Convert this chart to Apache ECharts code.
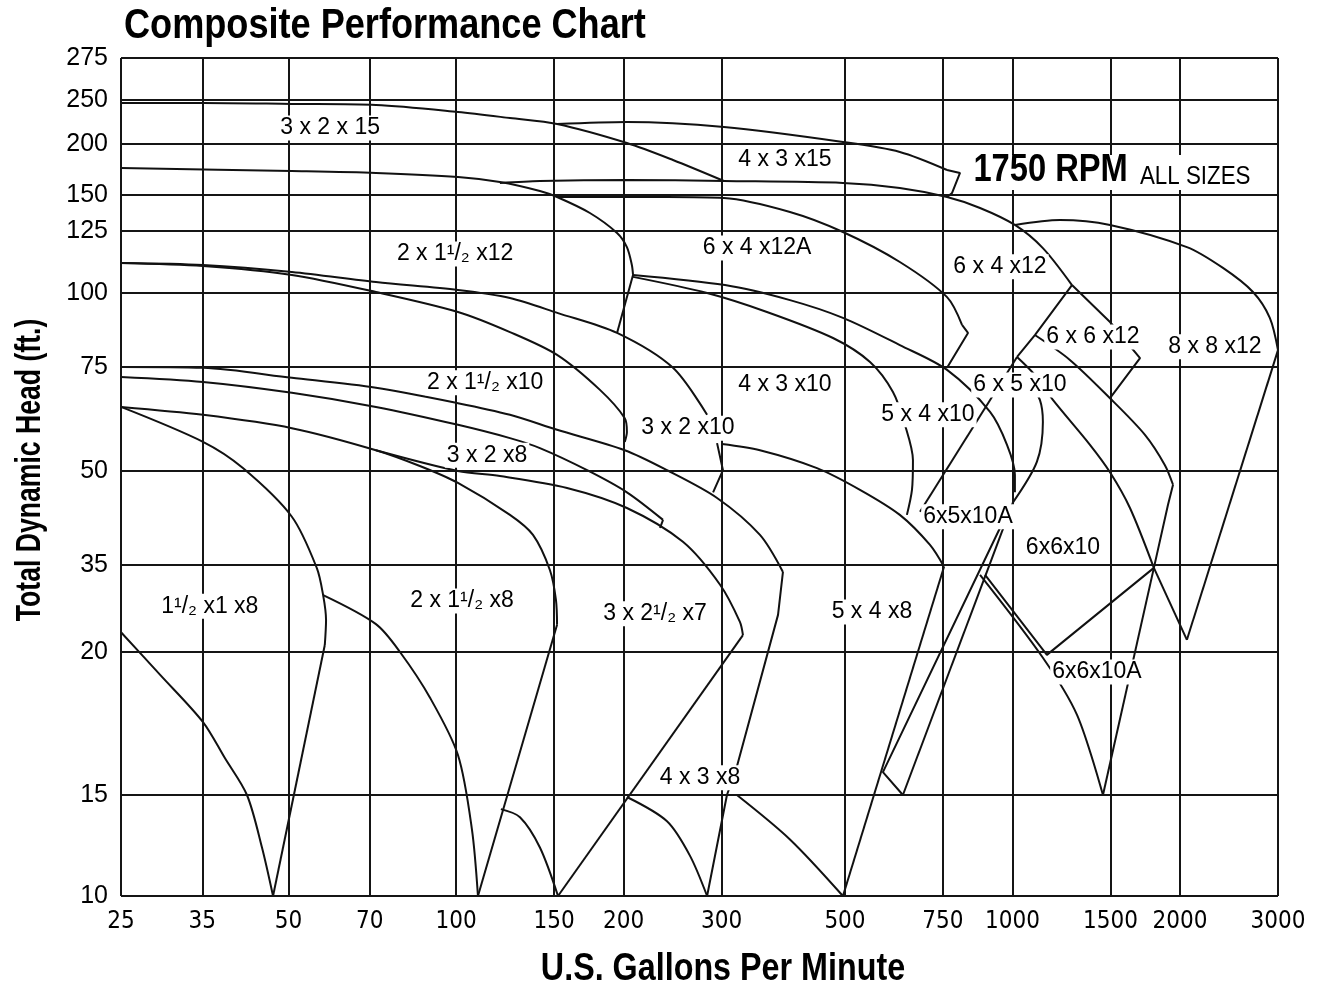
<!DOCTYPE html>
<html>
<head>
<meta charset="utf-8">
<title>Composite Performance Chart</title>
<script src="https://cdn.jsdelivr.net/npm/echarts@6/dist/echarts.min.js"></script>
<style>
  html, body { margin: 0; padding: 0; background: #fff; }
  #chart { width: 1323px; height: 990px; }
</style>
</head>
<body>
<div id="chart"></div>
<script>
// head scale as printed on the sheet: tick values and their (uneven) ruling
const headTicks = [10, 15, 20, 35, 50, 75, 100, 125, 150, 200, 250, 275];
const headRuling = [0, 101, 244, 331, 425, 529, 603, 665, 701, 752, 796, 838];
const gpmTicks = [25, 35, 50, 70, 100, 150, 200, 300, 500, 750, 1000, 1500, 2000, 3000];

// curves, points are [gpm, head ft]
// smooth impeller curves
const curve3x2x15 = [[25,246.6],[35.1,246.6],[50.7,245.5],[71.8,244.3],[100.8,236.4],[125,229.5],[151.9,222.7],[202.8,201.1],[245.4,184.3],[303,163.7]];
const curve4x3x15 = [[151.9,222.7],[202.8,225],[303,219.3],[495.8,202.3],[627.4,192.2],[762.8,174.5]];
const curve6x4x12 = [[119.9,161.8],[141.5,163.7],[202.8,164.7],[303,163.7],[495.8,161.8],[627.4,156.9],[762.8,148.6],[874.3,141],[1010,129.2],[1134,118.1],[1279,103.2]];
const curve8x8x12 = [[1010,129.2],[1217,132.6],[1497,129.2],[2058,118.5],[2389,110.1],[2705,100.4],[2900,91.6],[3000,80.7]];
const curve2x1h2x12 = [[25,176.5],[50.7,173.5],[71.8,171.6],[100.8,167.6],[119.9,162.7],[141.5,153.9],[151.9,148.6],[174,137.5],[194.7,124.2],[202.8,118.5],[207,111.3],[208,107.3]];
const curve6x4x12A = [[151.9,148.6],[181.4,148.6],[239.4,148.6],[303,147.9],[398.2,138.2],[495.8,124.6],[627.4,112.5],[762.8,98.6],[811.5,89.2]];
const curve6x5x10 = [[208,107.3],[304.3,103.2],[398.2,97.6],[495.8,91.6],[627.4,82.4],[762.8,74.3],[911.3,64.2],[977.5,56.3],[1010,49.4],[1010,46.6]];
const curve5x4x10 = [[208,106.5],[282.6,100],[362,93.6],[475.8,84.8],[554.6,76.7],[609.8,69],[640.7,61.1],[662.4,52.6],[659.7,47],[646,43]];
const curve4x3x10 = [[25,112.1],[35.1,111.3],[50.7,108.5],[71.8,104.4],[100.8,101.2],[125,98.3],[152.5,93.2],[194.7,86.5],[245.4,74.8],[282.6,63.5]];
const curve3x2x10 = [[25,112.1],[35.1,110.9],[50.7,107.3],[71.8,100.4],[100.8,93.6],[125,86.8],[151.9,79.1],[181.4,69.5],[201,62.7],[202.8,59.4],[201,57]];
const curve2x1h2x10 = [[25,75],[35.1,74.8],[50.7,72.4],[71.8,70],[100.8,66.3],[125,63.5],[151.9,59.9],[201,55],[239.4,50.2],[294.5,45.7],[351.7,39.8],[386.8,33.8]];
const curve3x2x8 = [[25,72.6],[35.1,71.4],[50.7,68.8],[71.8,65.4],[100.8,61.1],[125,57.9],[141.5,55.5],[172,50.2],[202.8,46.6],[235.5,42.2]];
const curve2x1h2x8 = [[25,65.4],[35.1,63.5],[50.7,60.3],[71.8,55],[86.1,51.2],[100.8,48.1],[125,43],[137.5,39.8],[147.5,34.1],[151.2,29],[151.9,24.7]];
const curve3x2h2x7 = [[71.8,55],[100.8,50],[119.9,49.2],[158.3,47.3],[202.8,44.1],[255.7,38.7],[298.2,31.6],[323.7,25.2],[327.8,22.9]];
const curve1h2x1x8 = [[25,65.4],[35.1,57],[41.4,50.7],[50.7,42.7],[56.2,34.5],[57.7,29.8],[58.4,25.5],[58.1,21.2]];
const trim1h2x1x8 = [[25,23.4],[29.4,19.2],[35.1,17.55],[38.4,16.3],[42.1,15],[44.8,12.4],[46.9,10]];
const trim2x1h2x8 = [[57.7,29.8],[71.8,24.8],[79.3,20],[89.8,18.4],[100.8,16.4],[106.8,13.3],[109.5,10]];
const trim3x2h2x7 = [[120.4,14.3],[130.3,13.9],[141.5,12.4],[152.5,10]];
const trim4x3x8 = [[202.8,14.9],[239.4,13.7],[263.2,12],[282.6,10]];
const curve4x3x8 = [[319.7,15],[398.2,12.8],[495.8,10]];
const curve5x4x8 = [[300.6,56.5],[351.7,55],[445.3,50.7],[532,47],[627.4,43],[710.8,38.2],[753.3,34.7]];
const trim6x5x10 = [[1075,70.7],[1120,67.1],[1134,61.8],[1106,52.2],[1002,45]];
const curve6x6x10 = [[1019,78.4],[1097,73.1],[1182,67.1],[1378,56.3],[1497,49.8],[1626,44.1],[1795,34.5]];
const curve6x6x12 = [[1097,85.8],[1268,77.4],[1497,67.5],[1730,58.7],[1879,51.4],[1943,47.8]];
const trim6x6x10A = [[874.3,33.3],[1134,19.8],[1306,17.8],[1454,15]];

// straight boundaries, hooks and notches
const hook4x3x15 = [[762.8,174.5],[804.8,171.6],[778.8,152],[762.8,148.6]];
const hook6x4x12 = [[1279,103.2],[1497,90.2],[1695,78],[1497,67.5]];
const edge6x4x12 = [[1279,103.2],[1097,85.8],[1019,78.4]];
const edge8x8x12 = [[3000,80.7],[2058,22.1]];
const notch2x1h2x12 = [[208,107.3],[194.7,86.5]];
const hook6x4x12A = [[811.5,89.2],[831.8,86.5],[762.8,74.8]];
const notch3x2x10 = [[294.5,56.7],[301.8,50.2],[289.7,46.6]];
const edge2x1h2x10 = [[386.8,33.8],[379,26.4],[319.7,16],[306.8,15],[282.6,10]];
const hook3x2x8 = [[235.5,42.2],[232.6,40.9]];
const edge2x1h2x8 = [[151.9,24.7],[109.5,10]];
const edge3x2h2x7 = [[327.8,22.9],[152.5,10]];
const edge1h2x1x8 = [[58.1,21.2],[46.9,10]];
const hook4x3x8 = [[306.8,15],[319.7,15]];
const edge5x4x8 = [[495.8,10],[753.3,34.7]];
const edge5x4x10 = [[682,43.5],[1019,78.4]];
const edge6x6x12 = [[1943,47.8],[1903,44.6],[1795,34.5]];
const upper6x5x10A = [[949.5,40.9],[585,15.8],[635.4,15]];
const lower6x5x10A = [[1002,45],[635.4,15]];
const edge6x6x10A = [[892.7,33.3],[1153,19.9],[1795,34.5]];
const rise6x6x10A = [[1454,15],[1795,34.5]];
const drop8x8x12 = [[1795,34.5],[2058,22.1]];

// [text, gpm, head ft]
const curveLabels = [
  ['3 x 2 x 15', 59.4, 218.2],
  ['4 x 3 x15', 390, 184.3],
  ['2 x 1¹/₂ x12', 99.6, 115.7],
  ['6 x 4 x12A', 347.5, 118.1],
  ['6 x 4 x12', 949.5, 110.6],
  ['6 x 6 x12', 1395, 85.1],
  ['8 x 8 x12', 2311, 81.8],
  ['2 x 1¹/₂ x10', 112.8, 71.2],
  ['4 x 3 x10', 390, 70.7],
  ['5 x 4 x10', 704.8, 63.5],
  ['6 x 5 x10', 1031, 70.7],
  ['3 x 2 x10', 261, 60.3],
  ['3 x 2 x8', 113.7, 53.8],
  ['6x5x10A', 831.8, 42.7],
  ['6x6x10', 1232, 37.7],
  ['1¹/₂ x1 x8', 36.1, 27.9],
  ['2 x 1¹/₂ x8', 102.5, 28.8],
  ['3 x 2¹/₂ x7', 227.8, 26.6],
  ['5 x 4 x8', 559, 26.9],
  ['6x6x10A', 1418, 19.3],
  ['4 x 3 x8', 274.5, 15.6]
];

const smoothCurves = [
  curve3x2x15, curve4x3x15, curve6x4x12, curve8x8x12, curve2x1h2x12, curve6x4x12A,
  curve6x5x10, curve5x4x10, curve4x3x10, curve3x2x10, curve2x1h2x10, curve3x2x8,
  curve2x1h2x8, curve3x2h2x7, curve1h2x1x8, trim1h2x1x8, trim2x1h2x8, trim3x2h2x7,
  trim4x3x8, curve4x3x8, curve5x4x8, trim6x5x10, curve6x6x10, curve6x6x12, trim6x6x10A
];
const straightRuns = [
  hook4x3x15, hook6x4x12, edge6x4x12, edge8x8x12, notch2x1h2x12, hook6x4x12A,
  notch3x2x10, edge2x1h2x10, hook3x2x8, edge2x1h2x8, edge3x2h2x7, edge1h2x1x8,
  hook4x3x8, edge5x4x8, edge5x4x10, edge6x6x12, upper6x5x10A, lower6x5x10A,
  edge6x6x10A, rise6x6x10A, drop8x8x12
];

// head in feet -> position on the printed ruling
function headToUnit(h) {
  if (h <= headTicks[0]) return headRuling[0];
  for (let i = 1; i < headTicks.length; i++) {
    if (h <= headTicks[i]) {
      const t = (h - headTicks[i - 1]) / (headTicks[i] - headTicks[i - 1]);
      return headRuling[i - 1] + t * (headRuling[i] - headRuling[i - 1]);
    }
  }
  return headRuling[headRuling.length - 1];
}

const ink = '#000';
const sans = '"Liberation Sans", Arial, Helvetica, sans-serif';
const cond = '"DejaVu Sans Condensed", "Liberation Sans", sans-serif';

const chart = echarts.init(document.getElementById('chart'));

let series = [];

// vertical rulings + gpm labels
series.push({
  type: 'line',
  data: [[25, 0]],
  showSymbol: false,
  lineStyle: { width: 0 },
  silent: true,
  z: 1,
  markLine: {
    silent: true,
    symbol: ['none', 'none'],
    animation: false,
    lineStyle: { type: 'solid', color: '#151515', width: 2 },
    label: {
      position: 'start',
      distance: 14,
      formatter: '{b}',
      color: ink,
      fontFamily: cond,
      fontSize: 24
    },
    emphasis: { disabled: true },
    data: gpmTicks.map(v => ({ xAxis: v, name: String(v) }))
  }
});

// horizontal rulings + head labels
series.push({
  type: 'line',
  data: [[25, 0]],
  showSymbol: false,
  lineStyle: { width: 0 },
  silent: true,
  z: 1,
  markLine: {
    silent: true,
    symbol: ['none', 'none'],
    animation: false,
    lineStyle: { type: 'solid', color: '#151515', width: 2 },
    label: {
      position: 'start',
      distance: 13,
      formatter: '{b}',
      color: ink,
      fontFamily: sans,
      fontSize: 25
    },
    emphasis: { disabled: true },
    data: headTicks.map(h => ({ yAxis: headToUnit(h), name: String(h) }))
  }
});

function curveSeries(pts, smooth) {
  return {
    type: 'line',
    data: pts.map(p => [p[0], headToUnit(p[1])]),
    showSymbol: false,
    symbol: 'none',
    smooth: smooth,
    silent: true,
    lineStyle: { color: '#111', width: 2 },
    z: 2
  };
}
smoothCurves.forEach(pts => series.push(curveSeries(pts, 0.3)));
straightRuns.forEach(pts => series.push(curveSeries(pts, false)));

// size labels
series.push({
  type: 'scatter',
  symbolSize: 1,
  itemStyle: { color: 'rgba(255,255,255,0)', opacity: 1 },
  silent: true,
  z: 5,
  label: {
    show: true,
    position: 'inside',
    formatter: '{b}',
    color: ink,
    opacity: 1,
    textBorderWidth: 0,
    fontFamily: sans,
    fontSize: 23,
    backgroundColor: '#fff',
    padding: [1, 2]
  },
  data: curveLabels.map(l => ({ name: l[0], value: [l[1], headToUnit(l[2])] }))
});

const option = {
  animation: false,
  backgroundColor: '#fff',
  grid: { left: 121, right: 45, top: 58, bottom: 94 },
  xAxis: {
    type: 'log',
    logBase: 10,
    min: 25,
    max: 3000,
    axisLine: { show: false },
    axisTick: { show: false },
    axisLabel: { show: false },
    splitLine: { show: false }
  },
  yAxis: {
    type: 'value',
    min: 0,
    max: headRuling[headRuling.length - 1],
    axisLine: { show: false },
    axisTick: { show: false },
    axisLabel: { show: false },
    splitLine: { show: false }
  },
  graphic: [
    {
      type: 'text',
      x: 124,
      y: 26,
      scaleX: 0.86,
      style: {
        text: 'Composite Performance Chart',
        font: 'bold 42px ' + sans,
        fill: ink,
        align: 'left',
        verticalAlign: 'middle'
      }
    },
    {
      type: 'text',
      x: 970,
      y: 155,
      scaleX: 0.86,
      z: 100,
      style: {
        text: '{a|1750 RPM}{b|ALL SIZES}',
        backgroundColor: '#fff',
        padding: [0, 4, 0, 4],
        rich: {
          a: { font: 'bold 38px ' + sans, fill: ink, lineHeight: 35, verticalAlign: 'bottom', padding: [0, 14, 0, 0] },
          b: { font: '26px ' + sans, fill: ink, lineHeight: 35, verticalAlign: 'bottom' }
        }
      }
    },
    {
      type: 'text',
      x: 723,
      y: 970,
      scaleX: 0.85,
      style: {
        text: 'U.S. Gallons Per Minute',
        font: 'bold 38px ' + sans,
        fill: ink,
        align: 'center',
        verticalAlign: 'middle'
      }
    },
    {
      type: 'text',
      x: 30,
      y: 470,
      rotation: Math.PI / 2,
      scaleX: 0.76,
      style: {
        text: 'Total Dynamic Head (ft.)',
        font: 'bold 35px ' + sans,
        fill: ink,
        align: 'center',
        verticalAlign: 'middle'
      }
    }
  ],
  series: series
};

chart.setOption(option);
</script>
</body>
</html>
